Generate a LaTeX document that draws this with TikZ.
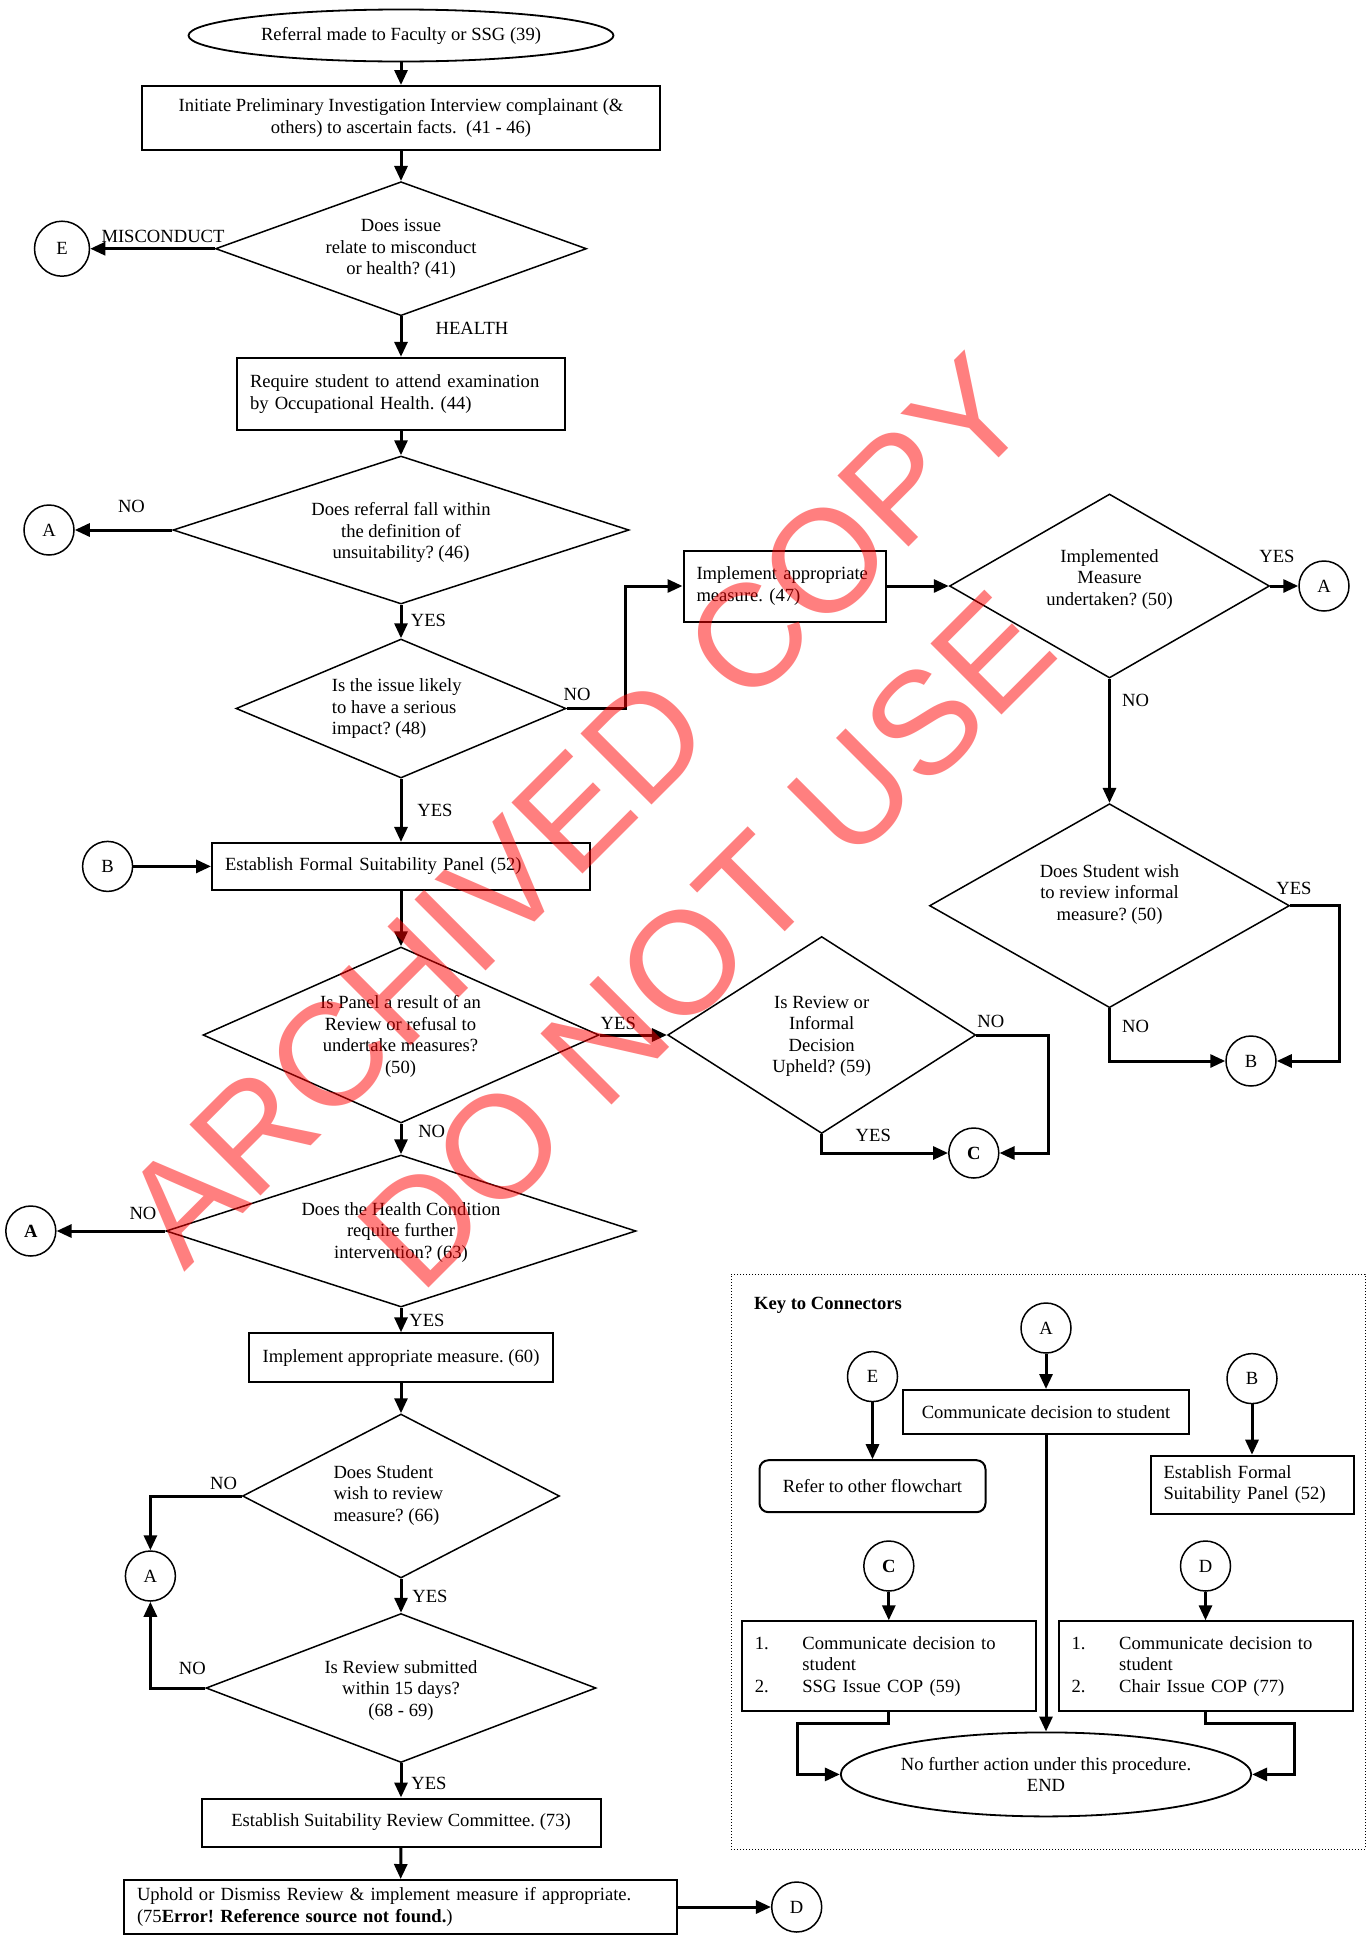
\documentclass[tikz,border=0pt]{standalone}
\usepackage{fontspec}
\setmainfont{Liberation Serif}
\newfontfamily\wmfont{Liberation Sans}
\usetikzlibrary{arrows.meta,shapes.geometric}
\frenchspacing
\definecolor{cNet}{HTML}{000000}
\definecolor{cDau}{HTML}{FF0000}
\def\Lreferral{Referral made to Faculty or SSG (39)}
\def\Linitiate{Initiate Preliminary Investigation Interview complainant (\&\\others) to ascertain facts.\ \ (41 - 46)}
\def\Lissue{Does issue\\relate to misconduct\\or health? (41)}
\def\Lexam{Require student to attend examination\\by Occupational Health. (44)}
\def\Lwithin{Does referral fall within\\the definition of\\unsuitability? (46)}
\def\Lserious{Is the issue likely\\to have a serious\\impact? (48)}
\def\Lmeasure{Implement appropriate\\measure. (47)}
\def\Lundertaken{Implemented\\Measure\\undertaken? (50)}
\def\Linformal{Does Student wish\\to review informal\\measure? (50)}
\def\Lpanel{Establish Formal Suitability Panel (52)}
\def\Lrefusal{Is Panel a result of an\\Review or refusal to\\undertake measures?\\(50)}
\def\Lupheld{Is Review or\\Informal\\Decision\\Upheld? (59)}
\def\Lcondition{Does the Health Condition\\require further\\intervention? (63)}
\def\Lmeasuresix{Implement appropriate measure. (60)}
\def\Lwish{Does Student\\wish to review\\measure? (66)}
\def\Lsubmitted{Is Review submitted\\within 15 days?\\(68 - 69)}
\def\Lcommittee{Establish Suitability Review Committee. (73)}
\def\Luphold{Uphold or Dismiss Review \& implement measure if appropriate.\\(75\textbf{Error! Reference source not found.})}
\def\Lkey{Key to Connectors}
\def\Lcomm{Communicate decision to student}
\def\Lrefer{Refer to other flowchart}
\def\Lpanelkey{Establish Formal\\Suitability Panel (52)}
\def\So#1{\makebox[47.6pt][l]{#1}}
\def\Lssg{\So{1.}Communicate decision to\\\So{}student\\\So{2.}SSG Issue COP (59)}
\def\Lchair{\So{1.}Communicate decision to\\\So{}student\\\So{2.}Chair Issue COP (77)}
\def\Lend{No further action under this procedure.\\END}

\begin{document}
\begin{tikzpicture}[x=1pt, y=-1pt,
  font=\fontsize{18.6}{21.5}\selectfont,
  boxplain/.style={draw=cNet, line width=2pt, inner sep=0pt, align=center},
  boxleft/.style={boxplain, align=left, inner xsep=13pt},
  decide/.style={draw=cNet, line width=1.5pt, diamond, inner sep=0pt},
  terminal/.style={draw=cNet, line width=1.8pt, ellipse, inner sep=0pt, align=center},
  joint/.style={draw=cNet, line width=1.5pt, circle, inner sep=0pt, minimum size=50pt},
  txt/.style={inner sep=0pt, align=center},
  tag/.style={inner sep=0pt},
  flow/.style={draw=cNet, line width=3pt, -{Triangle[length=15pt,width=13pt]}},
  wmark/.style={text=cDau, text opacity=0.5, rotate=45, align=center, inner sep=0pt,
    font=\wmfont\fontsize{146}{184}\selectfont}
]

% ── Khung: toa do tinh theo pixel cua ban goc (1367 x 1944) ──
\fill[white] (0,0) rectangle (1367,1944);
\useasboundingbox (0,0) rectangle (1367,1944);

% ── Cot chinh ──
\node[terminal, minimum width=425pt, minimum height=52pt] (start) at (401,35.5) {\Lreferral};
\node[boxplain, minimum width=518pt, minimum height=64pt] (initiate) at (401,118) {\Linitiate};
\node[decide, minimum width=371pt, minimum height=134pt] (issue) at (401,248.7) {};
\node[txt] (tIssue) at (401,249.3) {\Lissue};
\node[joint, minimum size=55pt] (cE) at (62,248.7) {E};
\node[boxleft, text width=302pt, minimum height=72pt] (exam) at (401,393.8) {\Lexam};

\node[decide, minimum width=456pt, minimum height=148pt] (within) at (401,530) {};
\node[txt] (tWithin) at (401,532.9) {\Lwithin};
\node[joint] (cA1) at (49,530) {A};
\node[decide, minimum width=330pt, minimum height=139pt] (serious) at (401,708.5) {};
\node[txt, align=left, anchor=west] (tSerious) at (331.7,708.6) {\Lserious};

% ── Nhanh ben phai ──
\node[boxleft, text width=176pt, minimum height=71pt] (measure) at (784.5,586) {\Lmeasure};
\node[decide, minimum width=320pt, minimum height=184pt] (undertaken) at (1109.5,586) {};
\node[txt] (tUndertaken) at (1109.5,579.5) {\Lundertaken};
\node[joint] (cA2) at (1324,586) {A};
\node[decide, minimum width=360pt, minimum height=204pt] (informal) at (1109.5,905.7) {};
\node[txt] (tInformal) at (1109.5,894.3) {\Linformal};
\node[joint] (cB2) at (1251,1061) {B};

% ── Hoi dong va xem xet ──
\node[joint] (cB1) at (107.6,866.4) {B};
\node[boxleft, text width=352pt, minimum height=47pt] (panel) at (401,866.4) {\Lpanel};
\node[decide, minimum width=396pt, minimum height=176pt] (refusal) at (401,1035) {};
\node[txt] (tRefusal) at (400.5,1036.6) {\Lrefusal};
\node[decide, minimum width=308pt, minimum height=197pt] (upheld) at (821.7,1035) {};
\node[txt] (tUpheld) at (821.7,1036.4) {\Lupheld};
\node[joint] (cC1) at (973.8,1153) {\bfseries C};
\node[decide, minimum width=470pt, minimum height=152pt] (condition) at (401,1231) {};
\node[txt] (tCondition) at (401,1232.4) {\Lcondition};
\node[joint] (cA3) at (30.8,1231) {\bfseries A};
\node[boxplain, minimum width=304.5pt, minimum height=49pt] (measuresix) at (401,1357.8) {\Lmeasuresix};
\node[decide, minimum width=317pt, minimum height=164pt] (wish) at (401,1496) {};
\node[txt, align=left, anchor=west] (tWish) at (333.3,1495.2) {\Lwish};
\node[joint] (cA4) at (150.4,1576) {A};
\node[decide, minimum width=390pt, minimum height=149pt] (submitted) at (401,1688) {};
\node[txt] (tSubmitted) at (401,1690.2) {\Lsubmitted};
\node[boxplain, minimum width=399pt, minimum height=48pt] (committee) at (401,1822.5) {\Lcommittee};
\node[boxleft, text width=527pt, minimum height=54pt] (uphold) at (400.5,1907) {\Luphold};
\node[joint] (cD1) at (796.7,1907) {D};

% ── Bang chu giai ──
\node[draw=cNet, line width=1pt, dotted, minimum width=634pt, minimum height=575pt, inner sep=0pt] (keybox) at (1048,1561.5) {};
\node[tag, anchor=west] (keytitle) at (753.9,1305) {\bfseries\Lkey};
\node[joint] (kA) at (1046,1328) {A};
\node[boxplain, minimum width=286pt, minimum height=44pt] (kComm) at (1046,1412) {\Lcomm};
\node[joint] (kE) at (872.5,1376.6) {E};
\node[boxplain, rounded corners=9pt, minimum width=226pt, minimum height=52pt] (kRefer) at (872.5,1486.2) {\Lrefer};
\node[joint] (kB) at (1252,1378.6) {B};
\node[boxleft, text width=177pt, minimum height=58pt] (kPanel) at (1252,1484.7) {\Lpanelkey};
\node[joint] (kC) at (888.8,1566) {\bfseries C};
\node[boxleft, text width=268pt, minimum height=90pt] (kSsg) at (888.8,1666.3) {\Lssg};
\node[joint] (kD) at (1205.5,1566) {D};
\node[boxleft, text width=268pt, minimum height=90pt] (kChair) at (1205.5,1666.3) {\Lchair};
\node[terminal, minimum width=400pt, minimum height=84pt] (kEnd) at (1046,1774.4) {\Lend};

% ── Mui ten ──
\draw[flow] (start) -- (initiate);
\draw[flow] (initiate) -- (issue);
\draw[flow] (issue) -- (cE);
\draw[flow] (issue) -- (exam);
\draw[flow] (exam) -- (within);
\draw[flow] (within) -- (cA1);
\draw[flow] (within) -- (serious);
\draw[flow] (serious.east) -- ++(59,0) |- (measure.west);
\draw[flow] (measure) -- (undertaken);
\draw[flow] (undertaken) -- (cA2);
\draw[flow] (undertaken) -- (informal);
\draw[flow] (informal.south) |- (cB2);
\draw[flow] (informal.east) -- ++(49,0) |- (cB2);
\draw[flow] (serious) -- (panel);
\draw[flow] (cB1) -- (panel);
\draw[flow] (panel) -- (refusal);
\draw[flow] (refusal) -- (upheld);
\draw[flow] (upheld.south) |- (cC1);
\draw[flow] (upheld.east) -- ++(72,0) |- (cC1);
\draw[flow] (refusal) -- (condition);
\draw[flow] (condition) -- (cA3);
\draw[flow] (condition) -- (measuresix);
\draw[flow] (measuresix) -- (wish);
\draw[flow] (wish.west) -| (cA4);
\draw[flow] (wish) -- (submitted);
\draw[flow] (submitted.west) -| (cA4);
\draw[flow] (submitted) -- (committee);
\draw[flow] (committee) -- (uphold);
\draw[flow] (uphold) -- (cD1);

\draw[flow] (kA) -- (kComm);
\draw[flow] (kE) -- (kRefer);
\draw[flow] (kB) -- (kPanel);
\draw[flow] (kC) -- (kSsg);
\draw[flow] (kD) -- (kChair);
\draw[flow] (kComm) -- (kEnd);
\draw[flow] (kSsg.south) -- ++(0,11) -- ++(-91,0) |- (kEnd.west);
\draw[flow] (kChair.south) -- ++(0,11) -- ++(89,0) |- (kEnd.east);

% ── Nhan YES / NO ──
\node[tag] (lMis) at (163,236) {MISCONDUCT};
\node[tag] (lHealth) at (472,328.3) {HEALTH};
\node[tag] (lNoWithin) at (131.5,506) {NO};
\node[tag] (lYesWithin) at (428.5,620) {YES};
\node[tag] (lNoSerious) at (577,694) {NO};
\node[tag] (lYesSerious) at (435,810) {YES};
\node[tag] (lYesUnder) at (1277,556.3) {YES};
\node[tag] (lNoUnder) at (1135.5,700) {NO};
\node[tag] (lYesInformal) at (1294,888) {YES};
\node[tag] (lNoInformal) at (1135.5,1026) {NO};
\node[tag] (lYesRefusal) at (618.3,1023.3) {YES};
\node[tag] (lNoRefusal) at (431.7,1131) {NO};
\node[tag] (lNoUpheld) at (990.8,1021.7) {NO};
\node[tag] (lYesUpheld) at (873.3,1135.7) {YES};
\node[tag] (lNoCond) at (143,1213.3) {NO};
\node[tag] (lYesCond) at (427,1320) {YES};
\node[tag] (lNoWish) at (223.6,1483) {NO};
\node[tag] (lYesWish) at (430,1596.3) {YES};
\node[tag] (lNoSub) at (192.4,1668.5) {NO};
\node[tag] (lYesSub) at (429,1783) {YES};

% ── Dau chim ──
\node[wmark] (wm) at (641,875) {ARCHIVED COPY\\DO NOT USE};

\end{tikzpicture}
\end{document}
